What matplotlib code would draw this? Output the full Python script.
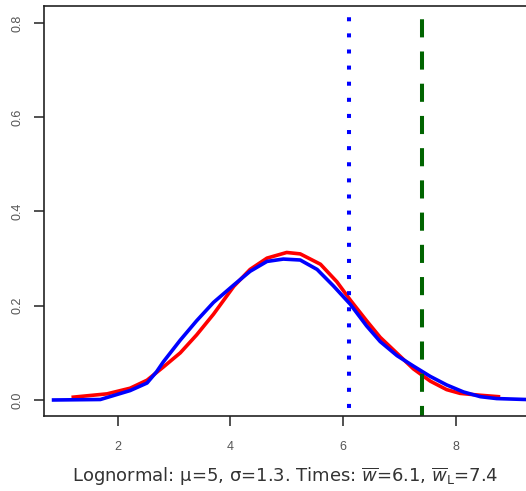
import matplotlib
matplotlib.use("Agg")
import matplotlib.pyplot as plt

plt.rcParams['font.family'] = ['Liberation Sans', 'DejaVu Sans']
plt.rcParams['mathtext.fontset'] = 'dejavusans'

# red curve (fitted density)
red_x = [1.21, 1.81, 2.22, 2.52, 2.81, 3.11, 3.40, 3.70, 4.06, 4.35, 4.65, 5.00, 5.24,
         5.60, 5.89, 6.13, 6.42, 6.66, 6.96, 7.25, 7.55, 7.84, 8.08, 8.44, 8.76]
red_y = [0.006, 0.013, 0.025, 0.042, 0.070, 0.100, 0.138, 0.182, 0.241, 0.277, 0.301, 0.313, 0.310,
         0.288, 0.251, 0.212, 0.168, 0.133, 0.099, 0.066, 0.040, 0.022, 0.014, 0.010, 0.007]

# blue curve (empirical density)
blue_x = [0.86, 1.69, 2.22, 2.52, 2.69, 2.81, 3.11, 3.40, 3.70, 4.06, 4.35, 4.65, 4.94, 5.24,
          5.54, 5.83, 6.13, 6.42, 6.66, 6.96, 7.25, 7.55, 7.84, 8.14, 8.44, 8.73, 9.25]
blue_y = [0.0, 0.001, 0.020, 0.036, 0.060, 0.081, 0.127, 0.168, 0.207, 0.244, 0.273, 0.294, 0.299, 0.297,
          0.277, 0.242, 0.203, 0.157, 0.124, 0.094, 0.072, 0.050, 0.032, 0.017, 0.007, 0.003, 0.001]

w_bar = 6.1
w_L = 7.4

xticks = [2, 4, 6, 8]
yticks = [0.0, 0.2, 0.4, 0.6, 0.8]

fig = plt.figure(figsize=(5.26, 4.91), dpi=100)
ax = fig.add_axes([44/526, (491-416)/491, 1.0 - 44/526, (416-6)/491])

ax.plot(red_x, red_y, color='red', lw=2.6)
ax.plot(blue_x, blue_y, color='blue', lw=2.6)
ax.axvline(w_bar, color='blue', lw=2.9, ls=(2, (1, 3)), dash_capstyle='butt')
ax.axvline(w_L, color='darkgreen', lw=2.9, ls=(2, (4.5, 3.5)), dash_capstyle='butt')

ax.set_xlim(0.69, 9.25)
ax.set_ylim(-0.034, 0.836)
ax.set_xticks(xticks)
ax.set_xticklabels([str(t) for t in xticks])
ax.set_yticks(yticks)
ax.set_yticklabels([f"{t:.1f}" for t in yticks], rotation=90, va='center')

for s in ['left', 'top', 'bottom']:
    ax.spines[s].set_color('#222222')
    ax.spines[s].set_linewidth(1.2)
ax.spines['right'].set_visible(False)
ax.tick_params(length=7, width=1.2, color='#333333', labelsize=9,
               labelcolor='#555555')
ax.tick_params(axis='x', pad=11)
ax.tick_params(axis='y', pad=8)

ax.set_xlabel(r"Lognormal: μ=5, σ=1.3. Times: $\overline{w}$=6.1, $\overline{w}_{\mathrm{L}}$=7.4",
              fontsize=13, color='#333333', labelpad=9, family='DejaVu Sans')

fig.savefig("out.png", dpi=100)
